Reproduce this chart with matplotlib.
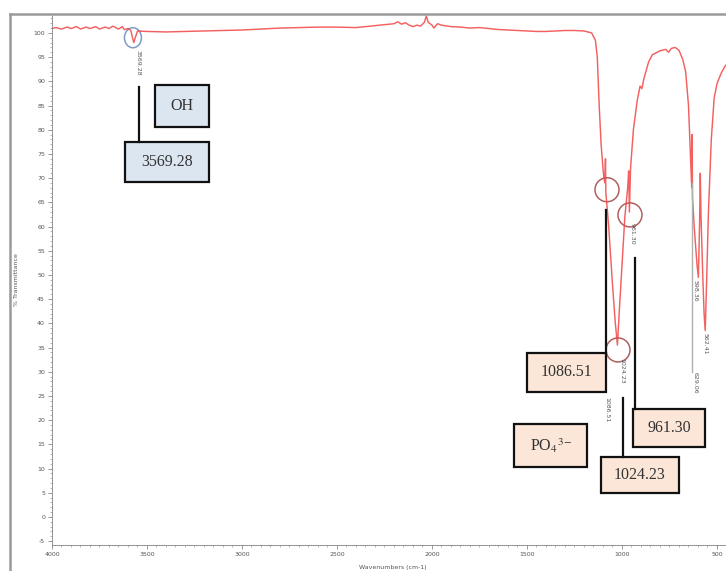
import matplotlib
matplotlib.use("Agg")
import matplotlib.pyplot as plt
from matplotlib.patches import Ellipse, Rectangle
from matplotlib.lines import Line2D
import numpy as np

plt.rcParams["mathtext.fontset"] = "stix"

# ---------------- data ----------------
wavenumber = [4000, 3980, 3950, 3920, 3900, 3870, 3850, 3820, 3800, 3770, 3750, 3720, 3700,
              3680, 3650, 3630, 3620, 3600, 3585, 3575, 3569, 3562, 3550, 3500, 3400, 3300,
              3200, 3100, 3000, 2900, 2800, 2700, 2600, 2500, 2400, 2350, 2300, 2250, 2200,
              2180, 2160, 2140, 2120, 2100, 2080, 2060, 2040, 2030, 2020, 2000, 1990, 1980,
              1970, 1950, 1900, 1850, 1800, 1750, 1700, 1650, 1600, 1550, 1500, 1450, 1400,
              1350, 1300, 1250, 1200, 1160, 1140, 1130, 1120, 1110, 1100, 1095, 1090, 1087,
              1085, 1070, 1050, 1035, 1024, 1015, 1000, 985, 970, 965, 961, 955, 940, 920,
              905, 895, 885, 860, 840, 800, 770, 755, 740, 720, 700, 680, 665, 650, 640, 633,
              631, 629, 620, 605, 598, 592, 588, 584, 575, 568, 562, 555, 545, 530, 515, 500,
              480, 460, 450]
transmittance = [100.9, 101.1, 100.8, 101.2, 100.9, 101.3, 100.8, 101.2, 100.9, 101.3, 100.8, 101.2, 100.9,
                 101.4, 100.8, 101.3, 100.7, 100.9, 100.5, 98.8, 98.0, 99.0, 100.4, 100.3, 100.2, 100.3,
                 100.4, 100.5, 100.6, 100.8, 101.0, 101.1, 101.2, 101.2, 101.1, 101.3, 101.5, 101.7, 101.9,
                 102.3, 101.8, 102.1, 101.6, 101.3, 101.6, 101.4, 102.2, 103.5, 102.2, 101.6, 101.0, 101.5,
                 101.9, 101.6, 101.3, 101.2, 101.0, 101.1, 100.9, 100.7, 100.6, 100.5, 100.4, 100.3, 100.3,
                 100.4, 100.5, 100.5, 100.4, 100.0, 98.5, 95.0, 85.0, 77.0, 72.0, 70.0, 69.0, 74.0,
                 67.0, 60.0, 48.0, 40.0, 35.5, 42.0, 52.0, 62.0, 68.0, 71.5, 63.0, 72.0, 80.0, 86.0,
                 89.0, 88.5, 90.5, 94.0, 95.5, 96.3, 96.6, 96.0, 96.8, 97.0, 96.4, 94.5, 92.0, 85.0, 75.0, 68.0,
                 79.0, 66.0, 60.0, 52.0, 49.5, 60.0, 71.0, 62.0, 50.0, 42.0, 38.5, 48.0, 63.0, 78.0, 86.5, 89.5,
                 91.5, 93.0, 93.5]

x_ticks = [4000, 3500, 3000, 2500, 2000, 1500, 1000, 500]
y_ticks = list(range(-5, 101, 5))

peak_labels = ["3569.28", "1086.51", "1024.23", "961.30", "598.36", "562.41", "629.06"]
box_labels = ["OH", "3569.28", "1086.51", r"PO$_4$$^{3\!-}$", "1024.23", "961.30"]

# ---------------- figure ----------------
W, H = 726, 571
fig = plt.figure(figsize=(W / 100, H / 100), dpi=100)
fig.patch.set_facecolor("white")

def fx(px):
    return px / W

def fy(py):
    return 1 - py / H

ax = fig.add_axes([fx(52), fy(545), 1 - fx(52), fy(15) - fy(545)])
ax.plot(wavenumber, transmittance, color="#f24444", lw=1.05, alpha=0.85)
ax.set_xlim(4000, 452.6)
ax.set_ylim(-5.8, 103.7)

ax.set_xticks(x_ticks)
ax.set_xticklabels([str(t) for t in x_ticks])
ax.set_yticks(y_ticks)
ax.set_yticklabels([str(t) for t in y_ticks])
ax.set_xticks(np.arange(4000, 450, -50), minor=True)
ax.set_yticks(np.arange(-5, 104, 1), minor=True)
ax.tick_params(axis="both", which="major", direction="out", length=3, width=0.6,
               color="#888888", labelsize=4.5, labelcolor="#555555", pad=2)
ax.tick_params(axis="both", which="minor", direction="out", length=1.5, width=0.5,
               color="#999999")
for s in ["top", "right"]:
    ax.spines[s].set_visible(False)
for s in ["left", "bottom"]:
    ax.spines[s].set_color("#888888")
    ax.spines[s].set_linewidth(0.7)
    ax.spines[s].set_linestyle((0, (1, 1.2)))
ax.set_facecolor("none")

fig.text(fx(393), fy(568), "Wavenumbers (cm-1)", fontsize=4.5, color="#555555",
         ha="center", va="center")
fig.text(fx(17), fy(280), "% Transmittance", fontsize=4.5, color="#555555",
         ha="center", va="center", rotation=90)

# window frame (screenshot border)
fig.add_artist(Line2D([fx(10), 1], [fy(14), fy(14)], color="#9a9a9a", lw=1.8))
fig.add_artist(Line2D([fx(10), fx(10)], [fy(14), 0], color="#9a9a9a", lw=1.8))

# peak circles (data coords sized to look round in pixels)
px_per_wn = 0.19
px_per_t = 4.84
ax.add_patch(Ellipse((3574, 99.0), 17 / px_per_wn, 20 / px_per_t, fill=False,
                     ec="#7f9cc6", lw=1.1))
for (cx, cy) in [(1079, 67.6), (958, 62.4), (1021, 34.5)]:
    ax.add_patch(Ellipse((cx, cy), 24 / px_per_wn, 24 / px_per_t, fill=False,
                         ec="#b06060", lw=1.1))

# gray peak marker line (629.06)
ax.plot([629.06, 629.06], [69, 30], color="#b0b0b0", lw=1.0)

# small vertical peak labels (pixel layout)
small_pos = [(138, 50), (607, 397), (622, 358), (632, 223), (695, 280), (705, 333), (695, 372)]
for lab, (px, py) in zip(peak_labels, small_pos):
    fig.text(fx(px), fy(py), lab, fontsize=4.5, color="#555555", rotation=270,
             ha="center", va="top")

# black leader lines (pixel layout)
leaders = [((139, 87), (139, 142)), ((606, 210), (606, 353)),
           ((623, 398), (623, 457)), ((635, 258), (635, 409))]
for (x0, y0), (x1, y1) in leaders:
    fig.add_artist(Line2D([fx(x0), fx(x1)], [fy(y0), fy(y1)], color="#111111", lw=1.6))

# boxes (pixel layout): x0, y0, x1, y1, face
boxes = [(155, 85, 209, 127, "#dce6f1"), (125, 142, 209, 182, "#dce6f1"),
         (527, 353, 606, 392, "#fbe6d8"), (514, 424, 587, 467, "#fbe6d8"),
         (601, 457, 679, 493, "#fbe6d8"), (633, 409, 705, 447, "#fbe6d8")]
for lab, (x0, y0, x1, y1, fc) in zip(box_labels, boxes):
    fig.add_artist(Rectangle((fx(x0), fy(y1)), fx(x1) - fx(x0), fy(y0) - fy(y1),
                             transform=fig.transFigure, fc=fc, ec="#111111", lw=1.6))
    fig.text(fx((x0 + x1) / 2), fy((y0 + y1) / 2), lab, fontsize=11.5,
             family=["Liberation Serif", "DejaVu Serif"], color="#333333",
             ha="center", va="center")

fig.savefig("out.png", dpi=100)
